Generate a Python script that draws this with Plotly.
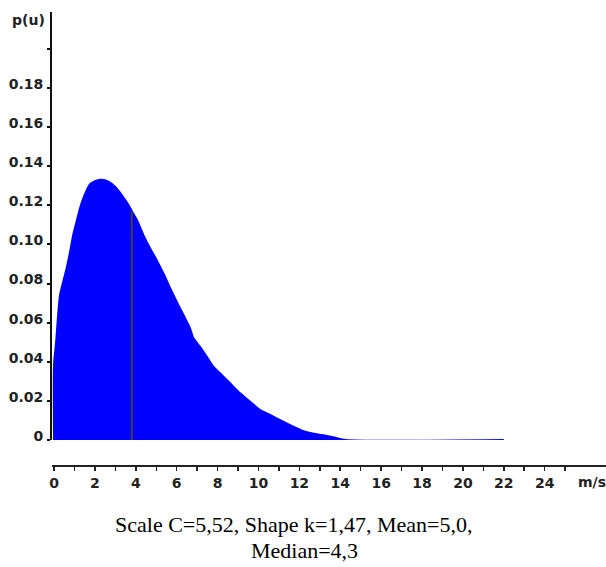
import plotly.graph_objects as go

# Wind speed (m/s) and probability density
speed = [0.0, 0.0, 0.10, 0.20, 0.29, 0.45, 0.62, 0.78, 0.94, 1.11, 1.27, 1.43, 1.60, 1.76,
         2.01, 2.33, 2.66, 2.98, 3.31, 3.64, 3.80, 4.05, 4.37, 4.70, 5.02, 5.35, 5.68,
         6.00, 6.33, 6.65, 6.82, 7.14, 7.47, 7.79, 8.12, 8.45, 8.77, 9.10, 9.59, 10.08,
         10.57, 11.06, 11.71, 12.20, 12.60, 13.10, 13.70, 14.25, 22.0]
density = [0.0, 0.039, 0.050, 0.064, 0.074, 0.081, 0.088, 0.096, 0.105, 0.112, 0.1185,
           0.1236, 0.1278, 0.1308, 0.1324, 0.1331, 0.1321, 0.1295, 0.1253, 0.1202, 0.1171,
           0.1125, 0.1048, 0.0980, 0.0920, 0.0852, 0.0776, 0.0707, 0.0639, 0.0571, 0.0520,
           0.0477, 0.0426, 0.0375, 0.0341, 0.0307, 0.0273, 0.0239, 0.0196, 0.0153, 0.0128,
           0.0102, 0.0068, 0.0045, 0.0034, 0.0025, 0.0013, 0.0, 0.0]

median_line_speed = [3.80, 3.80]
median_line_density = [0.0, 0.1171]

y_tick_vals = [0, 0.02, 0.04, 0.06, 0.08, 0.10, 0.12, 0.14, 0.16, 0.18, 0.20]
y_tick_text = ["0", "0.02", "0.04", "0.06", "0.08", "0.10", "0.12", "0.14", "0.16", "0.18", ""]
x_tick_vals = list(range(0, 26))
x_tick_text = [str(v) if v % 2 == 0 else "" for v in x_tick_vals]

y_label = "p(u)"
x_unit = "m/s"
caption_line1 = "Scale C=5,52, Shape k=1,47, Mean=5,0,"
caption_line2 = "Median=4,3"

tick_font = dict(family="DejaVu Sans", size=14, color="#222222", weight="bold")
caption_font = dict(family="Liberation Serif", size=22, color="black")

fig = go.Figure()
fig.add_trace(go.Scatter(
    x=speed, y=density, mode="lines", fill="tozeroy",
    fillcolor="#0000ff",
    line=dict(color="#0000ff", width=2, shape="spline", smoothing=0.6, simplify=False),
    hoverinfo="skip", showlegend=False, xaxis="x", yaxis="y"))
fig.add_trace(go.Scatter(
    x=median_line_speed, y=median_line_density, mode="lines",
    line=dict(color="#404040", width=2),
    hoverinfo="skip", showlegend=False, xaxis="x2", yaxis="y"))

x_range = [-0.1, 27.0]

fig.update_layout(
    width=606, height=567, autosize=False,
    margin=dict(l=52, r=0, t=12, b=101, pad=0),
    paper_bgcolor="white", plot_bgcolor="white",
    xaxis=dict(range=x_range, visible=False, anchor="y", fixedrange=True),
    xaxis2=dict(range=x_range, overlaying="x", anchor="free", position=0, side="bottom",
                showline=True, linecolor="#222222", linewidth=2,
                ticks="outside", ticklen=4, tickwidth=1.5, tickcolor="#222222",
                tickvals=x_tick_vals, ticktext=x_tick_text, tickfont=tick_font,
                showgrid=False, zeroline=False, fixedrange=True),
    yaxis=dict(domain=[0.0573, 1], range=[0, 0.2189], anchor="x",
               showline=True, linecolor="#111111", linewidth=2,
               ticks="outside", ticklen=3, tickwidth=2, tickcolor="#111111",
               tickvals=y_tick_vals, ticktext=y_tick_text, tickfont=tick_font,
               ticklabelshift=-4, ticklabelstandoff=1,
               showgrid=False, zeroline=False, fixedrange=True),
    annotations=[
        dict(text=y_label, xref="paper", yref="paper", x=(28 - 52) / 554, y=(466 - 20) / 454,
             xanchor="center", yanchor="middle", showarrow=False, font=tick_font),
        dict(text=x_unit, xref="paper", yref="paper", x=(592 - 52) / 554, y=(466 - 482) / 454,
             xanchor="center", yanchor="middle", showarrow=False, font=tick_font),
        dict(text=caption_line1, xref="paper", yref="paper", x=(293 - 52) / 554,
             y=(466 - 524) / 454, xanchor="center", yanchor="middle", showarrow=False,
             font=caption_font),
        dict(text=caption_line2, xref="paper", yref="paper", x=(304 - 52) / 554,
             y=(466 - 550) / 454, xanchor="center", yanchor="middle", showarrow=False,
             font=caption_font),
    ],
)

fig.write_html("out.html", config={"displayModeBar": False, "staticPlot": True})
